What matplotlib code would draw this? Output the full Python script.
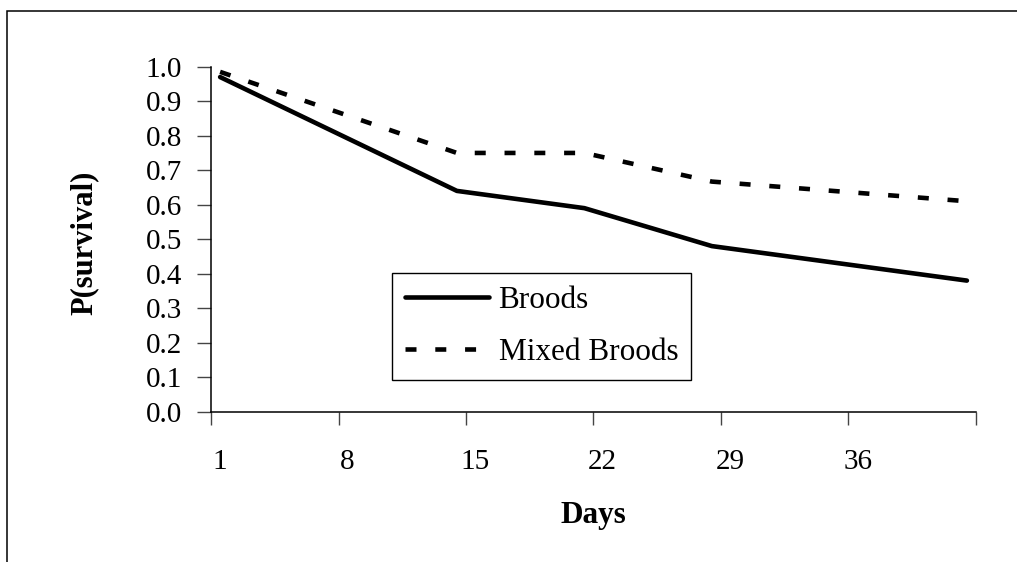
"""
Survival probability of broods vs mixed broods over days.
Excel-style line chart rebuilt with matplotlib.
"""

import matplotlib
matplotlib.use('Agg')
import matplotlib.pyplot as plt
from matplotlib.patches import Rectangle
from matplotlib.ticker import FixedLocator, NullFormatter, FixedFormatter

# Data
days = [1, 14, 21, 28, 42]
broods = [0.97, 0.64, 0.59, 0.48, 0.38]
mixed_broods = [0.985, 0.75, 0.75, 0.667, 0.61]

day_labels = [1, 8, 15, 22, 29, 36]
y_ticks = [0.0, 0.1, 0.2, 0.3, 0.4, 0.5, 0.6, 0.7, 0.8, 0.9, 1.0]
n_days = 42

plt.rcParams['font.family'] = ['Liberation Serif', 'DejaVu Serif']

W, H = 1017, 562
fig = plt.figure(figsize=(W / 100, H / 100), dpi=100)
fig.patch.set_facecolor('white')

left, right = 211 / W, 976 / W
top, bottom = 1 - 66.7 / H, 1 - 411.7 / H
ax = fig.add_axes([left, bottom, right - left, top - bottom])

# outer chart-area border (cut off at the right and bottom)
fig.patches.append(Rectangle((7 / W, -0.2), 2.0, 1.2 - 11 / H, transform=fig.transFigure,
                             fill=False, edgecolor='black', linewidth=1.1))

ax.plot(days, broods, color='black', linewidth=3.3, solid_capstyle='round',
        label='Broods')
ax.plot(days, mixed_broods, color='black', linewidth=3.3, dashes=(2.4, 4.1),
        dash_capstyle='butt', label='Mixed Broods')

ax.set_xlim(0.5, n_days + 0.5)
ax.set_ylim(0, 1.0)

# category boundaries get tick marks, labels sit at category centres
ax.xaxis.set_major_locator(FixedLocator([0.5 + 7 * i for i in range(7)]))
ax.xaxis.set_major_formatter(NullFormatter())
ax.xaxis.set_minor_locator(FixedLocator(day_labels))
ax.xaxis.set_minor_formatter(FixedFormatter([str(d) for d in day_labels]))
ax.tick_params(axis='x', which='major', direction='out', length=9, width=1, color='#444444')
ax.tick_params(axis='x', which='minor', length=0, pad=27, labelsize=21)

ax.set_yticks(y_ticks)
ax.set_yticklabels([f'{v:.1f}' for v in y_ticks])
ax.tick_params(axis='y', direction='out', length=10, width=1, color='#444444',
               pad=11, labelsize=21)

for side in ['top', 'right']:
    ax.spines[side].set_visible(False)
for side in ['left', 'bottom']:
    ax.spines[side].set_linewidth(1.1)
    ax.spines[side].set_color('black')

fig.text(84 / W, 1 - 243 / H, 'P(survival)', rotation=90, ha='center', va='center',
         fontsize=22, fontweight='bold')
fig.text(593 / W, 1 - 516 / H, 'Days', ha='center', va='center',
         fontsize=22.5, fontweight='bold')

leg = ax.legend(loc='upper left', bbox_to_anchor=(391.7 / W, 1 - 273.3 / H),
                bbox_transform=fig.transFigure, fontsize=22.5, frameon=True,
                fancybox=False, framealpha=1, edgecolor='black',
                handlelength=2.7, handletextpad=0.3, borderpad=0.42,
                labelspacing=0.72, borderaxespad=0)
leg.get_frame().set_linewidth(1.0)

plt.savefig('out.png', dpi=100)
plt.close()
